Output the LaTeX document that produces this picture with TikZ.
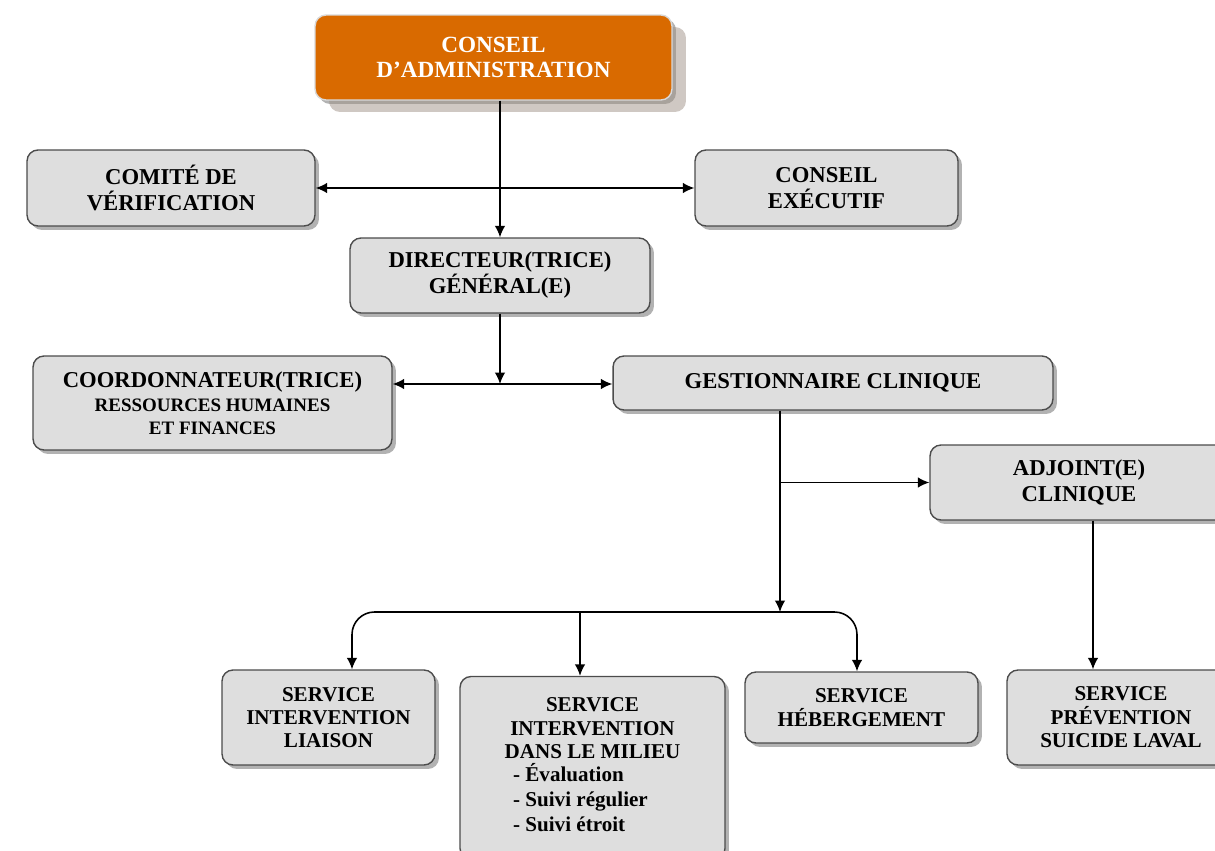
\documentclass[tikz,border=0pt]{standalone}
\usepackage{fontspec}
\setmainfont{Liberation Serif}
\usetikzlibrary{calc,positioning,arrows.meta,shadows}
\definecolor{caorange}{RGB}{217,106,0}
\definecolor{boxgray}{RGB}{222,222,222}
\definecolor{cashade}{RGB}{160,146,136}
\newcommand{\smallline}[1]{{\fontsize{10.8}{12}\selectfont #1}}
\tikzset{
  orgtip/.tip={Latex[length=6.5pt,width=6pt]},
  unit box/.style={
    draw=black!70,
    line width=.8pt,
    fill=boxgray,
    rounded corners=.22cm,
    align=center,
    inner sep=2pt,
    font=\fontsize{12.9}{14.8}\selectfont\bfseries,
    drop shadow={shadow xshift=.08cm,shadow yshift=-.08cm,fill=black!60}
  },
  service box/.style={unit box,font=\fontsize{12}{13.3}\selectfont\bfseries},
  board box/.style={
    unit box,
    draw=gray!30,
    fill=caorange,
    text=white,
    font=\fontsize{13.2}{14.5}\selectfont\bfseries,
    drop shadow={shadow xshift=.28cm,shadow yshift=-.24cm,fill=cashade}
  },
  link/.style={line width=.9pt,-orgtip},
  both/.style={line width=.9pt,orgtip-orgtip}
}

\begin{document}
\begin{tikzpicture}[x=0.02cm,y=-0.02cm]
\useasboundingbox (0,0) rectangle (1215,851);

% top of the chart
\node[board box,minimum width=7.14cm,minimum height=1.7cm] (ca) at (493.5,57.5) {CONSEIL\\D’ADMINISTRATION};
\node[unit box,minimum width=5.76cm,minimum height=1.52cm] (comite) at (171,188) {COMITÉ DE\\VÉRIFICATION};
\node[unit box,minimum width=5.26cm,minimum height=1.52cm] (exec) at (826.5,188) {CONSEIL\\EXÉCUTIF};
\node[unit box,minimum width=6cm,minimum height=1.5cm] (dir) at (500,275.5) {DIRECTEUR(TRICE)\\GÉNÉRAL(E)};

% second level
\node[unit box,minimum width=7.18cm,minimum height=1.88cm] (coord) at (212.5,403) {COORDONNATEUR(TRICE)\\[-1pt]\smallline{RESSOURCES HUMAINES}\\[-2pt]\smallline{ET FINANCES}};
\node[unit box,minimum width=8.8cm,minimum height=1.08cm] (gest) at (833,383) {GESTIONNAIRE CLINIQUE};
\node[unit box,minimum width=5.96cm,minimum height=1.5cm] (adj) at (1079,482.5) {ADJOINT(E)\\CLINIQUE};

% services
\node[service box,minimum width=4.26cm,minimum height=1.9cm] (lia) at (328.5,717.5) {SERVICE\\INTERVENTION\\LIAISON};
\node[service box,minimum width=5.3cm,minimum height=3.66cm] (sidm) at (592.5,768) {SERVICE\\INTERVENTION\\DANS LE MILIEU\\[1.5pt]
  \begin{tabular}{@{}l@{}}- Évaluation\\[1pt]- Suivi régulier\\[1pt]- Suivi étroit\end{tabular}\hspace*{.48cm}};
\node[service box,minimum width=4.66cm,minimum height=1.42cm] (heb) at (861.5,707.5) {SERVICE\\HÉBERGEMENT};
\node[service box,minimum width=4.56cm,minimum height=1.9cm] (prev) at (1121,717.5) {SERVICE\\PRÉVENTION\\SUICIDE LAVAL};

% connectors
\draw[link] (ca.south -| dir.north) -- (dir.north);
\draw[both] (comite.east) -- (exec.west);

\coordinate (j1) at (500,384);
\draw[link] (dir.south) -- (j1);
\draw[both] (coord.east |- j1) -- (gest.west |- j1);

\coordinate (bus) at (780,612);
\draw[link] (gest.south -| bus) -- (bus);
\draw[link] (bus |- adj.west) -- (adj.west);

\coordinate (s1) at ([xshift=.47cm]lia.north);
\coordinate (s2) at ([xshift=-.25cm]sidm.north);
\coordinate (s3) at ([xshift=-.09cm]heb.north);
\draw[link,rounded corners=.45cm] (bus) -| (s1);
\draw[link,rounded corners=.45cm] (bus) -| (s3);
\draw[link] (bus -| s2) -- (s2);

\coordinate (a1) at ([xshift=.28cm]adj.south);
\draw[link] (a1) -- (a1 |- prev.north);
\end{tikzpicture}
\end{document}
